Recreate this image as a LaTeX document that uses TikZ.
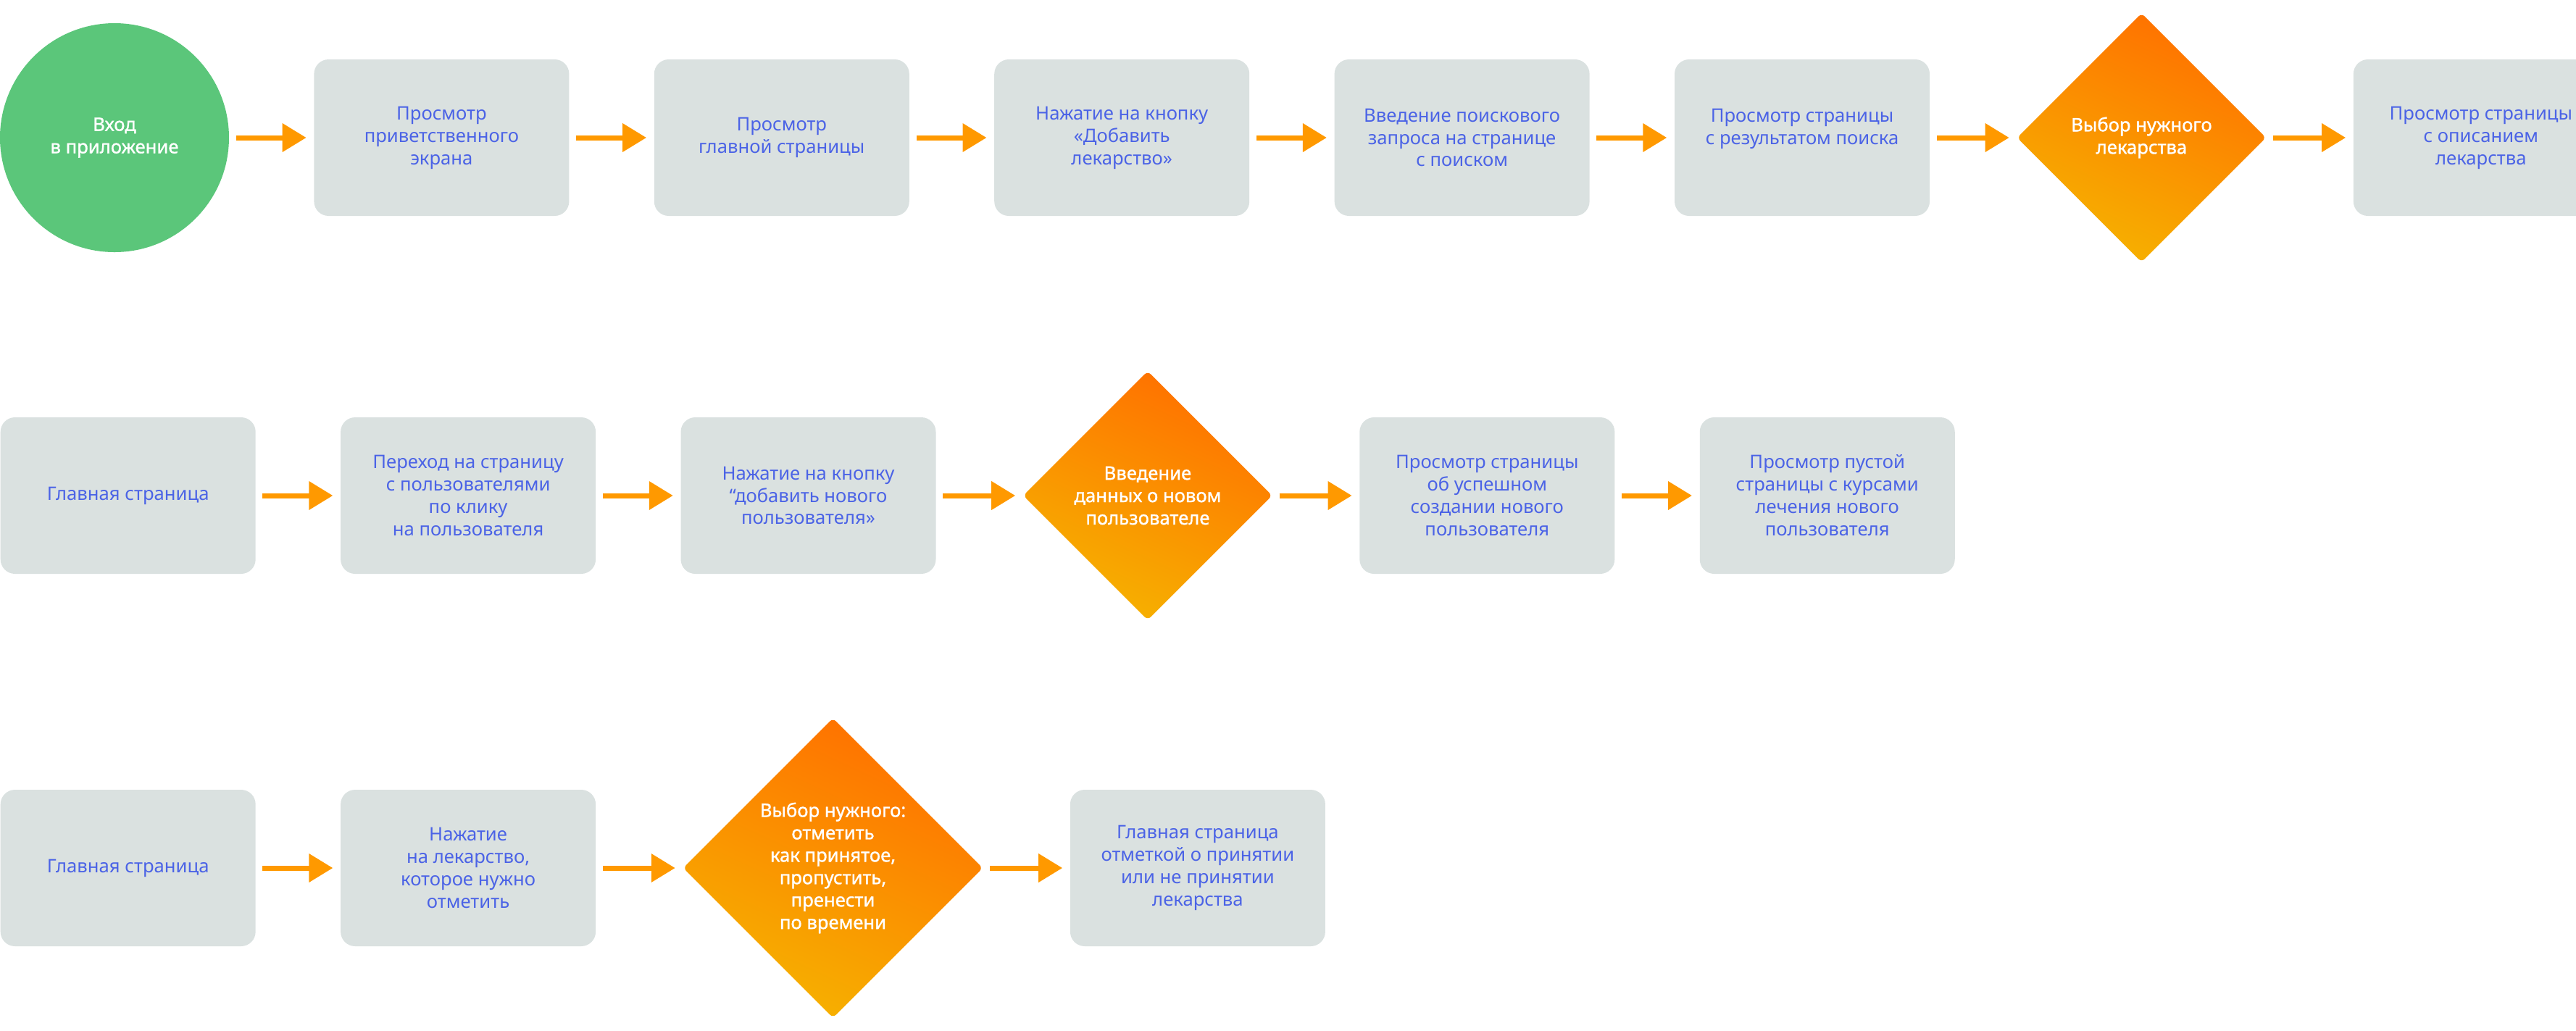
\documentclass[tikz,border=0pt]{standalone}
\usepackage{fontspec}
\setmainfont{Noto Sans}
\newfontfamily\medfont{Noto Sans}[FakeBold=1.2]
\usetikzlibrary{positioning,shapes.geometric,arrows.meta}

\definecolor{stepfill}{HTML}{DAE1E0}
\definecolor{steptext}{HTML}{4B63E6}
\definecolor{startfill}{HTML}{5BC67A}
\definecolor{flowc}{HTML}{FF9900}
\definecolor{choicetop}{HTML}{FF7000}
\definecolor{choicebot}{HTML}{F6B200}

\begin{document}
\begin{tikzpicture}[
	every node/.style={font=\fontsize{7.3}{8.8}\selectfont, align=center},
	node distance=11.6mm,
	stepbox/.style={fill=stepfill, text=steptext, rounded corners=2mm, minimum width=35.2mm, minimum height=21.6mm, inner sep=0pt},
	startnode/.style={circle, fill=startfill, text=white, font=\fontsize{7.3}{8.8}\medfont, minimum size=31.6mm, inner sep=0pt},
	choice/.style={diamond, aspect=1, rounded corners=0.6mm, top color=choicetop, bottom color=choicebot, shading angle=-25, text=white, font=\fontsize{7.3}{8.8}\medfont, minimum width=34.4mm, minimum height=34.4mm, inner sep=0pt},
	flow/.style={draw=flowc, line width=2pt, -{Triangle[length=3.3mm,width=3.8mm]}, shorten <=0.9mm, shorten >=1mm}
]
	\useasboundingbox (0,0) rectangle (35.55,-14.22);

	% first scenario: search for a drug
	\node[startnode] (enter) at (1.58,-1.90) {Вход\\в приложение};
	\node[stepbox, right=of enter] (welcome) {Просмотр\\приветственного\\экрана};
	\node[stepbox, right=of welcome] (mainpage) {Просмотр\\главной страницы};
	\node[stepbox, right=of mainpage] (addbtn) {Нажатие на кнопку\\«Добавить\\лекарство»};
	\node[stepbox, right=of addbtn] (query) {Введение поискового\\запроса на странице\\с поиском};
	\node[stepbox, right=of query] (results) {Просмотр страницы\\с результатом поиска\\\mbox{}};
	\node[choice, right=11.9mm of results] (pickdrug) {Выбор нужного\\лекарства};
	\node[stepbox, right=11.9mm of pickdrug] (drugpage) {Просмотр страницы\\с описанием\\лекарства};

	% second scenario: new user
	\node[stepbox, anchor=west] (home) at (0,-6.84) {Главная страница};
	\node[stepbox, right=of home] (users) {Переход на страницу\\с пользователями\\по клику\\на пользователя};
	\node[stepbox, right=of users] (adduser) {Нажатие на кнопку\\“добавить нового\\пользователя»};
	\node[choice, right=11.9mm of adduser] (userdata) {Введение\\данных о новом\\пользователе};
	\node[stepbox, right=11.9mm of userdata] (created) {Просмотр страницы\\об успешном\\создании нового\\пользователя};
	\node[stepbox, right=of created] (courses) {Просмотр пустой\\страницы с курсами\\лечения нового\\пользователя};

	% third scenario: mark a dose
	\node[stepbox, anchor=west] (home2) at (0,-11.98) {Главная страница};
	\node[stepbox, right=of home2] (tapdrug) {Нажатие\\на лекарство,\\которое нужно\\отметить};
	\node[choice, minimum width=41.4mm, minimum height=41.4mm, right=11.9mm of tapdrug] (markdose) {Выбор нужного:\\отметить\\как принятое,\\пропустить,\\пренести\\по времени};
	\node[stepbox, right=11.9mm of markdose] (marked) {Главная страница\\отметкой о принятии\\или не принятии\\лекарства};

	\foreach \a/\b in {enter/welcome, welcome/mainpage, mainpage/addbtn, addbtn/query, query/results, results/pickdrug, pickdrug/drugpage,
		home/users, users/adduser, adduser/userdata, userdata/created, created/courses,
		home2/tapdrug, tapdrug/markdose, markdose/marked}
		\draw[flow] (\a) -- (\b);
\end{tikzpicture}
\end{document}
